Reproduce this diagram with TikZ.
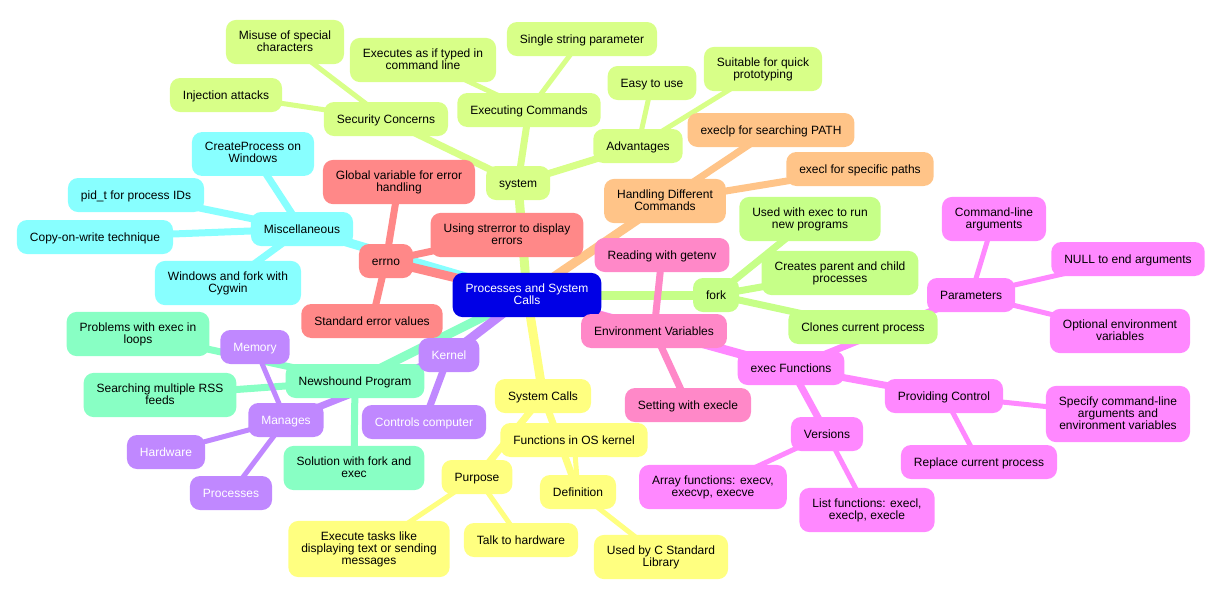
\documentclass[tikz,border=0pt]{standalone}
\usepackage{fontspec}
\setmainfont{Liberation Sans}
\pgfdeclarelayer{background}
\pgfsetlayers{background,main}
\definecolor{cblue}{HTML}{0000E6}
\definecolor{csys}{HTML}{D8FF88}
\definecolor{cfork}{HTML}{C6FF88}
\definecolor{corange}{HTML}{FFC488}
\definecolor{csalmon}{HTML}{FF8888}
\definecolor{ccyan}{HTML}{88FFFF}
\definecolor{cmint}{HTML}{88FFC4}
\definecolor{cpurple}{HTML}{C088FF}
\definecolor{cyellow}{HTML}{FFFF80}
\definecolor{cpink}{HTML}{FF88C8}
\definecolor{cmag}{HTML}{FF88FF}
\tikzset{
  n/.style={rounded corners=10pt, inner xsep=13pt, inner ysep=10.5pt, align=center,
    font=\fontsize{12}{12}\selectfont,
    execute at begin node=\rule{0pt}{10.5pt},
    execute at end node=\rule[-2.5pt]{0pt}{2.5pt}},
  e1/.style={line width=9pt},
  e2/.style={line width=7pt},
  e3/.style={line width=5pt},
}
\begin{document}
\begin{tikzpicture}[x=1pt,y=-1pt]
\useasboundingbox (0,0) rectangle (1215,590);
% root
\node[n,fill=cblue,text=white] (root) at (527,295) {Processes and System\\Calls};
% system
\node[n,fill=csys] (sys) at (518,183) {system};
\node[n,fill=csys] (sec) at (386,119) {Security Concerns};
\node[n,fill=csys] (mis) at (285,42) {Misuse of special\\characters};
\node[n,fill=csys] (inj) at (226,95) {Injection attacks};
\node[n,fill=csys] (exe) at (529,110) {Executing Commands};
\node[n,fill=csys] (typ) at (423,60) {Executes as if typed in\\command line};
\node[n,fill=csys] (sgl) at (582,39) {Single string parameter};
\node[n,fill=csys] (adv) at (638,146) {Advantages};
\node[n,fill=csys] (easy) at (652,83) {Easy to use};
\node[n,fill=csys] (suit) at (763,69) {Suitable for quick\\prototyping};
% handling
\node[n,fill=corange] (hdc) at (665,201) {Handling Different\\Commands};
\node[n,fill=corange] (xlp) at (771,130) {execlp for searching PATH};
\node[n,fill=corange] (xl) at (860,169) {execl for specific paths};
% fork
\node[n,fill=cfork] (fork) at (716,295) {fork};
\node[n,fill=cfork] (uwe) at (810,219) {Used with exec to run\\new programs};
\node[n,fill=cfork] (cpc) at (840,273) {Creates parent and child\\processes};
% env
\node[n,fill=cpink] (env) at (654,331) {Environment Variables};
\node[n,fill=cpink] (getenv) at (662,255) {Reading with getenv};
\node[n,fill=cpink] (setenv) at (688,405) {Setting with execle};
% exec functions
\node[n,fill=cmag] (xf) at (791,368) {exec Functions};
\node[n,fill=cmag] (par) at (971,295) {Parameters};
\node[n,fill=cfork] (ccp) at (863,327) {Clones current process};
\node[n,fill=cmag] (cla) at (994,219) {Command-line\\arguments};
\node[n,fill=cmag] (null) at (1128,259) {NULL to end arguments};
\node[n,fill=cmag] (oev) at (1120,331) {Optional environment\\variables};
\node[n,fill=cmag] (pc) at (944,396) {Providing Control};
\node[n,fill=cmag] (spec) at (1118,414) {Specify command-line\\arguments and\\environment variables};
\node[n,fill=cmag] (rep) at (979,462) {Replace current process};
\node[n,fill=cmag] (ver) at (827,434) {Versions};
\node[n,fill=cmag] (arr) at (713,487) {Array functions: execv,\\execvp, execve};
\node[n,fill=cmag] (lst) at (867,510) {List functions: execl,\\execlp, execle};
% errno
\node[n,fill=csalmon] (errno) at (386,261) {errno};
\node[n,fill=csalmon] (glob) at (399,182) {Global variable for error\\handling};
\node[n,fill=csalmon] (stre) at (507,235) {Using strerror to display\\errors};
\node[n,fill=csalmon] (std) at (372,321) {Standard error values};
% misc
\node[n,fill=ccyan] (misc) at (302,229) {Miscellaneous};
\node[n,fill=ccyan] (cp) at (253,154) {CreateProcess on\\Windows};
\node[n,fill=ccyan] (pid) at (136,195) {pid\_t for process IDs};
\node[n,fill=ccyan] (cow) at (95,237) {Copy-on-write technique};
\node[n,fill=ccyan] (win) at (228,283) {Windows and fork with\\Cygwin};
% newshound
\node[n,fill=cmint] (news) at (355,381) {Newshound Program};
\node[n,fill=cmint] (prob) at (138,334) {Problems with exec in\\loops};
\node[n,fill=cmint] (rss) at (160,395) {Searching multiple RSS\\feeds};
\node[n,fill=cmint] (sol) at (354,468) {Solution with fork and\\exec};
% kernel
\node[n,fill=cpurple,text=white] (ker) at (449,355) {Kernel};
\node[n,fill=cpurple,text=white] (man) at (286,420) {Manages};
\node[n,fill=cpurple,text=white] (mem) at (255,347) {Memory};
\node[n,fill=cpurple,text=white] (hw) at (166,452) {Hardware};
\node[n,fill=cpurple,text=white] (proc) at (231,493) {Processes};
\node[n,fill=cpurple,text=white] (ctl) at (424,422) {Controls computer};
% system calls
\node[n,fill=cyellow] (sc) at (543,396) {System Calls};
\node[n,fill=cyellow] (fos) at (574,440) {Functions in OS kernel};
\node[n,fill=cyellow] (pur) at (477,477) {Purpose};
\node[n,fill=cyellow] (def) at (578,492) {Definition};
\node[n,fill=cyellow] (ucs) at (661,557) {Used by C Standard\\Library};
\node[n,fill=cyellow] (ext) at (369,549) {Execute tasks like\\displaying text or sending\\messages};
\node[n,fill=cyellow] (thw) at (521,540) {Talk to hardware};

\begin{pgfonlayer}{background}
% system
\draw[e1,csys] (root.center) -- (sys.center);
\draw[e2,csys] (sys.center) -- (sec.center);
\draw[e2,csys] (sys.center) -- (exe.center);
\draw[e2,csys] (sys.center) -- (adv.center);
\draw[e3,csys] (sec.center) -- (mis.center);
\draw[e3,csys] (sec.center) -- (inj.center);
\draw[e3,csys] (exe.center) -- (typ.center);
\draw[e3,csys] (exe.center) -- (sgl.center);
\draw[e3,csys] (adv.center) -- (easy.center);
\draw[e3,csys] (adv.center) -- (suit.center);
% handling
\draw[e1,corange] (root.center) -- (hdc.center);
\draw[e2,corange] (hdc.center) -- (xlp.center);
\draw[e2,corange] (hdc.center) -- (xl.center);
% fork
\draw[e1,cfork] (root.center) -- (fork.center);
\draw[e2,cfork] (fork.center) -- (uwe.center);
\draw[e2,cfork] (fork.center) -- (cpc.center);
\draw[e2,cfork] (fork.center) -- (ccp.center);
% exec
\draw[e1,cmag] (root.center) -- (xf.center);
\draw[e2,cmag] (xf.center) -- (par.center);
\draw[e2,cmag] (xf.center) -- (pc.center);
\draw[e2,cmag] (xf.center) -- (ver.center);
\draw[e3,cmag] (par.center) -- (cla.center);
\draw[e3,cmag] (par.center) -- (null.center);
\draw[e3,cmag] (par.center) -- (oev.center);
\draw[e3,cmag] (pc.center) -- (spec.center);
\draw[e3,cmag] (pc.center) -- (rep.center);
\draw[e3,cmag] (ver.center) -- (arr.center);
\draw[e3,cmag] (ver.center) -- (lst.center);
% env
\draw[e1,cpink] (root.center) -- (env.center);
\draw[e2,cpink] (env.center) -- (getenv.center);
\draw[e2,cpink] (env.center) -- (setenv.center);
% errno / misc
\draw[e1,ccyan] (root.center) -- (misc.center);
\draw[e1,csalmon] (root.center) -- (errno.center);
\draw[e2,csalmon] (errno.center) -- (glob.center);
\draw[e2,csalmon] (errno.center) -- (stre.center);
\draw[e2,csalmon] (errno.center) -- (std.center);
\draw[e2,ccyan] (misc.center) -- (cp.center);
\draw[e2,ccyan] (misc.center) -- (pid.center);
\draw[e2,ccyan] (misc.center) -- (cow.center);
\draw[e2,ccyan] (misc.center) -- (win.center);
% newshound
\draw[e1,cmint] (root.center) -- (news.center);
\draw[e2,cmint] (news.center) -- (prob.center);
\draw[e2,cmint] (news.center) -- (rss.center);
\draw[e2,cmint] (news.center) -- (sol.center);
% kernel
\draw[e1,cpurple] (root.center) -- (ker.center);
\draw[e2,cpurple] (ker.center) -- (man.center);
\draw[e2,cpurple] (ker.center) -- (ctl.center);
\draw[e3,cpurple] (man.center) -- (mem.center);
\draw[e3,cpurple] (man.center) -- (hw.center);
\draw[e3,cpurple] (man.center) -- (proc.center);
% system calls
\draw[e1,cyellow] (root.center) -- (sc.center);
\draw[e2,cyellow] (sc.center) -- (pur.center);
\draw[e2,cyellow] (sc.center) -- (def.center);
\draw[e3,cyellow] (def.center) -- (fos.center);
\draw[e3,cyellow] (def.center) -- (ucs.center);
\draw[e3,cyellow] (pur.center) -- (ext.center);
\draw[e3,cyellow] (pur.center) -- (thw.center);
\end{pgfonlayer}
\end{tikzpicture}
\end{document}
